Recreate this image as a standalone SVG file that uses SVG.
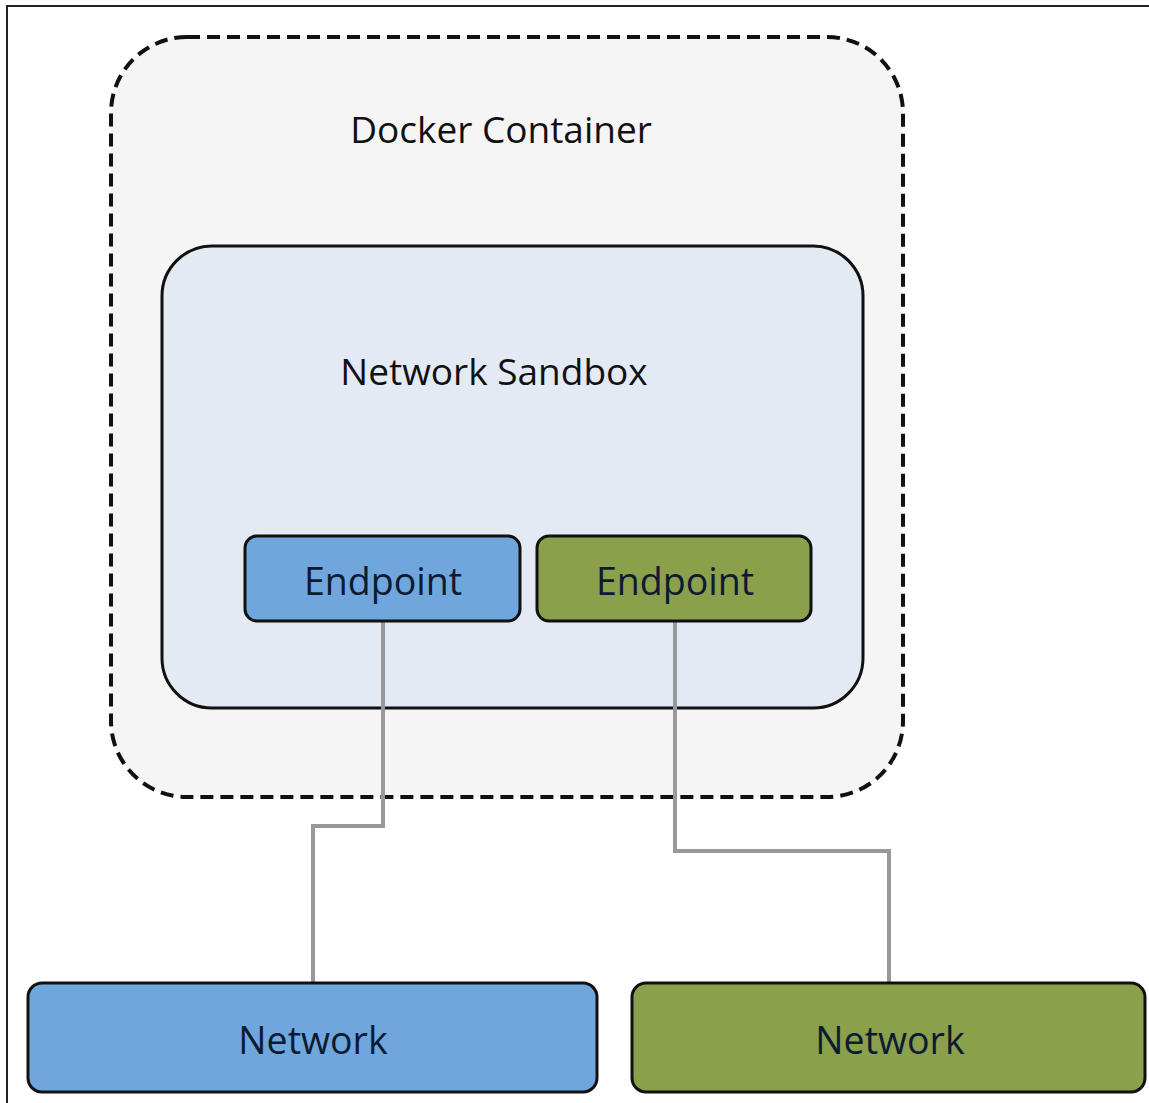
<svg xmlns="http://www.w3.org/2000/svg" width="1149" height="1103" viewBox="0 0 1149 1103">
<style>
text{font-family:"Open Sans","Noto Sans","Liberation Sans",sans-serif;fill:#111;text-anchor:middle}
.lbl{font-size:37px}
.ep{font-size:37.5px;fill:#0d1a33}
.box{stroke:#111;stroke-width:3}
.wire{fill:none;stroke:#999;stroke-width:4}
</style>
<rect x="7" y="6" width="1150" height="1110" fill="#fff" stroke="#222" stroke-width="2"/>
<g id="container">
<rect x="111" y="37" width="792" height="760" rx="76" fill="#f5f5f5" stroke="#111" stroke-width="4" stroke-dasharray="13,7"/>
<text class="lbl" x="501" y="143">Docker Container</text>
</g>
<g id="sandbox">
<rect x="162" y="246" width="701" height="462" rx="50" fill="#e3eaf4" class="box"/>
<text class="lbl" x="494" y="385">Network Sandbox</text>
</g>
<g id="connectors">
<polyline class="wire" points="383,621 383,826 313,826 313,983"/>
<polyline class="wire" points="675,621 675,851 889,851 889,983"/>
</g>
<g id="endpoint1">
<rect x="245" y="536" width="275" height="85" rx="12" fill="#6fa6dc" class="box"/>
<text class="ep" x="383" y="595">Endpoint</text>
</g>
<g id="endpoint2">
<rect x="537" y="536" width="274" height="85" rx="12" fill="#8aa04a" class="box"/>
<text class="ep" x="675" y="595">Endpoint</text>
</g>
<g id="network1">
<rect x="28" y="983" width="569" height="109" rx="14" fill="#6fa6dc" class="box"/>
<text class="ep" x="313" y="1054">Network</text>
</g>
<g id="network2">
<rect x="632" y="983" width="513" height="109" rx="14" fill="#8aa04a" class="box"/>
<text class="ep" x="890" y="1054">Network</text>
</g>
</svg>
